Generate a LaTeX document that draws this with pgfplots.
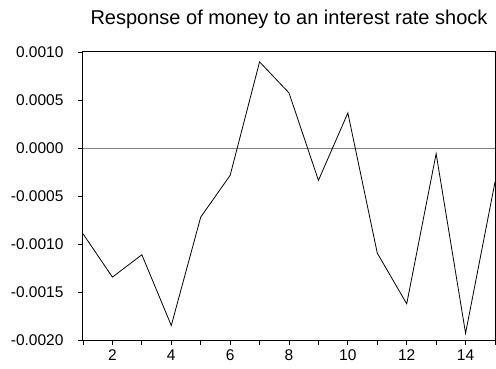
\documentclass[border=0pt]{standalone}
\usepackage{fontspec}
\setmainfont{Liberation Sans}
\usepackage{pgfplots}
\pgfplotsset{compat=1.18}

\begin{document}
\begin{tikzpicture}
\begin{axis}[
    scale only axis,
    width=412bp,
    height=288bp,
    xmin=1, xmax=15,
    ymin=-0.002, ymax=0.001,
    xtick={1,2,...,15},
    xticklabels={,2,,4,,6,,8,,10,,12,,14,},
    ytick={-0.002,-0.0015,-0.001,-0.0005,0,0.0005,0.001},
    yticklabels={-0.0020,-0.0015,-0.0010,-0.0005,0.0000,0.0005,0.0010},
    scaled y ticks=false,
    tick align=outside,
    tick pos=left,
    major tick length=5bp,
    tick style={black, line width=0.8bp},
    axis line style={line width=1bp},
    ticklabel style={font=\fontsize{15.5bp}{18bp}\selectfont},
    xticklabel style={yshift=-1bp},
    yticklabel style={xshift=-11bp},
    title={Response of money to an interest rate shock},
    title style={font=\fontsize{20bp}{24bp}\selectfont, yshift=14bp},
    clip=false
]
% zero line
\addplot[gray, line width=0.9bp] coordinates {(1,0) (15,0)};
% impulse response
\addplot[black, line width=0.8bp] coordinates {
    (1,-0.000893) (2,-0.001345) (3,-0.001112) (4,-0.001849) (5,-0.000720)
    (6,-0.000285) (7,0.000897) (8,0.000574) (9,-0.000337) (10,0.000365)
    (11,-0.001095) (12,-0.001623) (13,-0.000059) (14,-0.001930) (15,-0.000354)
};
\end{axis}
\pgfresetboundingbox
\path ([shift={(-83bp,-29bp)}]current axis.south west) rectangle ([shift={(1bp,52bp)}]current axis.north east);
\end{tikzpicture}
\end{document}
